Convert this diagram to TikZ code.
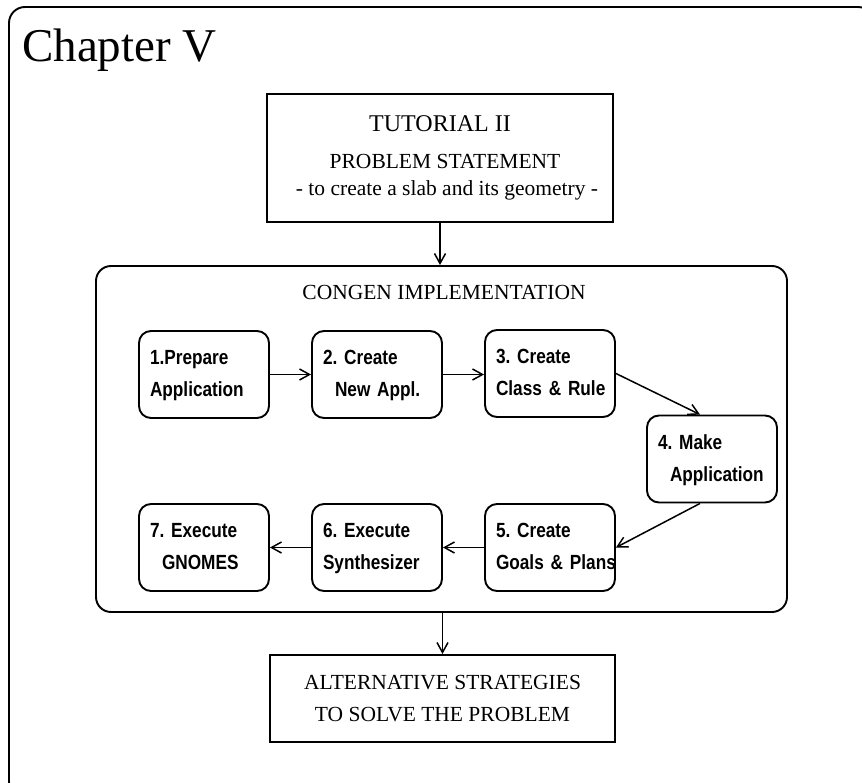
\documentclass[tikz,border=0pt]{standalone}
\usepackage{fontspec}
\setmainfont{Liberation Serif}
\newfontfamily\stepfont{Liberation Sans Bold}[FakeStretch=0.84]
\usetikzlibrary{arrows.meta,calc}
\newcommand\stepline[1]{\strut\mbox{#1}}
\begin{document}
\frenchspacing
\begin{tikzpicture}[x=1pt,y=-1pt,
  frame/.style={draw, line width=1.9pt},
  stepbox/.style={draw, line width=1.9pt, rounded corners=12pt,
    minimum width=130pt, minimum height=87pt, text width=108pt,
    inner xsep=11pt, inner ysep=0pt, align=left,
    font=\stepfont\fontsize{20.5}{32}\selectfont},
  flow/.style={line width=1.5pt,
    -{Straight Barb[length=10pt,width=11pt,line width=1.5pt]}},
  serif/.style={font=\fontsize{21.5}{32}\selectfont}
]
\useasboundingbox (0,0) rectangle (862,783);
\clip (0,0) rectangle (862,783);

% outer page frame
\draw[frame, rounded corners=16pt] (9,7) rectangle (874,798);
\node[anchor=base west, inner sep=0, font=\fontsize{47}{50}\selectfont]
  (chap) at (22,62) {Chapter V};

% problem statement
\node[frame, minimum width=346pt, minimum height=128pt, inner sep=0,
  align=center, font=\fontsize{21.5}{27}\selectfont] (tut) at (440,158)
  {{\fontsize{24}{27}\selectfont TUTORIAL II}\\[10pt]
   \hspace*{10pt}PROBLEM STATEMENT\\
   \hspace*{14pt}- to create a slab and its geometry -};

% implementation frame
\node[frame, rounded corners=15pt, minimum width=691pt, minimum height=346pt]
  (congen) at (441.5,439) {};
\node[serif, anchor=base, inner sep=0] (congentitle) at (444,300)
  {CONGEN IMPLEMENTATION};

% steps
\node[stepbox] (s1) at (204,374.5) {\stepline{1.Prepare}\\\stepline{Application}};
\node[stepbox] (s2) at (377,374.5) {\stepline{2. Create}\\\hspace*{12pt}\stepline{New Appl.}};
\node[stepbox] (s3) at (550,373.5) {\stepline{3. Create}\\\stepline{Class \& Rule}};
\node[stepbox] (s4) at (712,459) {\stepline{4. Make}\\\hspace*{12pt}\stepline{Application}};
\node[stepbox] (s5) at (550,547.5) {\stepline{5. Create}\\\stepline{Goals \& Plans}};
\node[stepbox] (s6) at (377,547.5) {\stepline{6. Execute}\\\stepline{Synthesizer}};
\node[stepbox] (s7) at (204,547.5) {\stepline{7. Execute}\\\hspace*{12pt}\stepline{GNOMES}};

% result
\node[frame, serif, minimum width=345pt, minimum height=87pt, inner sep=0,
  align=center] (alt) at (442.5,698.5)
  {ALTERNATIVE STRATEGIES\\TO SOLVE THE PROBLEM};

% connectors
\draw[flow] (tut.south) -- (tut.south |- congen.north);
\draw[flow] (s1) -- (s2);
\draw[flow] (s2) -- (s3.west |- s2);
\draw[flow] (s3.east) -- ([xshift=-12pt]s4.north);
\draw[flow] ([xshift=-12pt]s4.south) -- (s5.east);
\draw[flow] (s5) -- (s6);
\draw[flow] (s6) -- (s7);
\draw[flow] (congen.south -| alt.north) -- (alt.north);
\end{tikzpicture}
\end{document}
